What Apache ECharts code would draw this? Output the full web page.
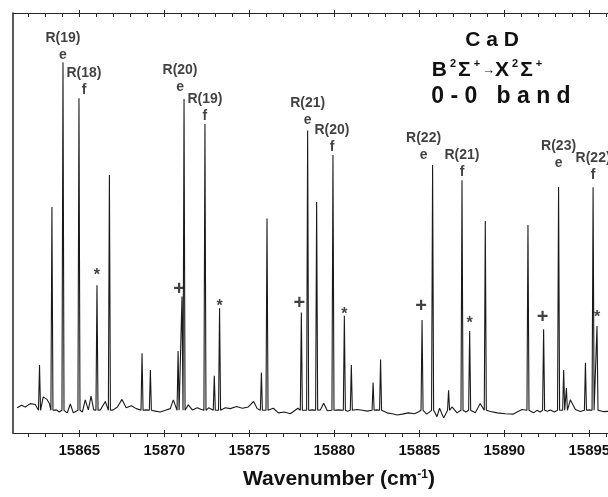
<!DOCTYPE html>
<html>
<head>
<meta charset="utf-8">
<script src="https://cdn.jsdelivr.net/npm/echarts@6/dist/echarts.min.js"></script>
<style>
  html, body { margin: 0; padding: 0; background: #fff; }
  #chart { width: 608px; height: 497px; }
</style>
</head>
<body>
<div id="chart"></div>
<script>
// line positions (cm-1) and heights
var peaks = [
  [15862.66, 16.2], [15863.39, 53.8], [15864.04, 88.3], [15864.98, 79.7],
  [15866.04, 35.2], [15866.77, 61.4], [15868.69, 19.0], [15869.18, 15.0],
  [15870.81, 19.5], [15871.04, 32.5], [15871.16, 79.5], [15872.39, 73.6],
  [15872.94, 13.6], [15873.25, 29.7], [15875.71, 14.4], [15876.04, 51.1],
  [15878.06, 28.7], [15878.43, 72.0], [15878.96, 55.0], [15879.92, 66.2],
  [15880.59, 27.9], [15881.00, 16.2], [15882.28, 12.0], [15882.72, 17.5],
  [15885.16, 26.9], [15885.78, 63.8], [15886.72, 10.2], [15887.51, 60.2],
  [15887.96, 24.3], [15888.88, 50.5], [15891.39, 49.5], [15892.31, 24.7],
  [15893.19, 58.6], [15893.49, 15.0], [15893.65, 10.7], [15894.77, 16.7],
  [15895.22, 58.5], [15895.45, 25.5]
];

// noisy baseline between the lines
var baseline = [
  [15861.35, 6.0], [15861.60, 6.6], [15861.82, 6.2], [15862.12, 7.0], [15862.41, 6.8],
  [15862.88, 8.6], [15863.10, 8.0], [15863.24, 7.0], [15863.65, 5.5], [15863.82, 5.0],
  [15864.29, 4.8], [15864.47, 6.9], [15864.65, 4.8], [15865.18, 5.0], [15865.35, 7.9],
  [15865.53, 5.5], [15865.69, 8.8], [15865.85, 5.5], [15866.24, 5.5], [15866.53, 7.5],
  [15867.00, 5.5], [15867.24, 6.2], [15867.51, 8.0], [15867.76, 6.0], [15868.06, 6.5],
  [15868.35, 5.8], [15868.94, 5.5], [15869.47, 5.2], [15869.76, 5.0], [15870.06, 5.4],
  [15870.35, 5.8], [15870.53, 7.9], [15871.41, 6.7], [15871.65, 5.5], [15871.94, 6.0],
  [15872.18, 5.6], [15872.61, 6.0], [15873.59, 6.0], [15873.88, 5.8], [15874.24, 6.3],
  [15874.59, 5.9], [15874.94, 6.2], [15875.25, 7.5], [15875.47, 5.8], [15876.41, 5.9],
  [15876.71, 4.8], [15877.06, 5.0], [15877.41, 4.6], [15877.86, 5.9], [15878.71, 5.5],
  [15879.18, 5.5], [15879.37, 7.1], [15879.59, 5.3], [15880.24, 5.5], [15880.79, 5.2],
  [15881.34, 5.6], [15881.65, 5.4], [15881.94, 5.2], [15882.50, 5.5], [15883.10, 4.8],
  [15883.41, 4.6], [15883.69, 4.3], [15884.00, 4.5], [15884.35, 4.8], [15884.71, 4.6],
  [15884.94, 5.0], [15885.44, 4.5], [15886.04, 3.9], [15886.19, 5.9], [15886.43, 3.6],
  [15886.92, 6.2], [15887.22, 4.8], [15887.74, 5.0], [15888.29, 4.8], [15888.58, 7.0],
  [15889.18, 5.1], [15889.59, 4.8], [15890.06, 4.6], [15890.53, 4.5], [15891.04, 5.6],
  [15891.72, 4.8], [15891.92, 5.4], [15892.10, 5.0], [15892.53, 5.2], [15892.71, 5.5],
  [15892.94, 5.0], [15893.88, 7.9], [15894.18, 5.6], [15894.47, 5.1], [15895.00, 5.5],
  [15895.81, 5.1], [15896.30, 5.2]
];

var majorTicks = [15865, 15870, 15875, 15880, 15885, 15890, 15895];
var minorTicks = [
  15862, 15863, 15864, 15865, 15866, 15867, 15868, 15869, 15870, 15871,
  15872, 15873, 15874, 15875, 15876, 15877, 15878, 15879, 15880, 15881,
  15882, 15883, 15884, 15885, 15886, 15887, 15888, 15889, 15890, 15891,
  15892, 15893, 15894, 15895, 15896, 15897, 15898, 15899
];

// assignments: branch, parity, line position
var branchLabels = [
  ['R(19)', 'e', 15864.04], ['R(18)', 'f', 15864.98],
  ['R(20)', 'e', 15871.16], ['R(19)', 'f', 15872.39],
  ['R(21)', 'e', 15878.43], ['R(20)', 'f', 15879.92],
  ['R(22)', 'e', 15885.78], ['R(21)', 'f', 15887.51],
  ['R(23)', 'e', 15893.19], ['R(22)', 'f', 15895.22]
];

var markers = [
  ['*', 15866.04], ['+', 15871.04], ['*', 15873.25], ['+', 15878.06], ['*', 15880.59],
  ['+', 15885.16], ['*', 15887.96], ['+', 15892.31], ['*', 15895.45]
];

// styling
var FONT = '"Liberation Sans", Arial, Helvetica, sans-serif';
var halfWidth = 0.06, footLevel = 5.4;
var labelShift = [[0, 6.7], [5, 8], [-4, 12], [0, 8], [0, 10], [-1, 8.3], [-9, 10], [0, 8.3], [0, 23.4], [0, 12]];
var markerShift = [[0, 14], [-3, 7], [0, 5.6], [-2, 9], [0, 5.3], [-1, 13.3], [0, 11], [-1, 12], [0, 12.7]];

function peakHeight(wn) {
  var p = peaks.find(function (q) { return Math.abs(q[0] - wn) < 0.005; });
  return p ? p[1] : 0;
}

// spectrum trace: each line drawn as a narrow spike over the baseline
var spectrum = [];
peaks.forEach(function (p) {
  spectrum.push([p[0] - halfWidth, footLevel], [p[0], p[1]], [p[0] + halfWidth, footLevel]);
});
baseline.forEach(function (b) {
  var clash = peaks.some(function (p) { return Math.abs(p[0] - b[0]) < halfWidth + 0.03; });
  if (!clash) spectrum.push(b);
});
spectrum.sort(function (a, b) { return a[0] - b[0]; });

var axisColor = '#262626';
var xMin = 15861.1, xMax = 15899.45;

function xAxisOf(pos, ticks, inside, len, showLine) {
  return {
    type: 'value', min: xMin, max: xMax, position: pos, gridIndex: 0,
    splitLine: { show: false },
    axisLine: { show: showLine, onZero: false, lineStyle: { color: axisColor, width: 1.2 } },
    axisTick: { show: true, inside: inside, length: len, customValues: ticks, lineStyle: { color: axisColor, width: 1 } },
    axisLabel: { show: false }
  };
}

var bottomAxis = xAxisOf('bottom', minorTicks, false, 4, true);
bottomAxis.axisLabel = {
  show: true, customValues: majorTicks, margin: 10,
  formatter: function (v) { return String(v); },
  fontSize: 15, fontWeight: 'bold', fontFamily: FONT, color: '#111'
};
bottomAxis.name = 'Wavenumber (cm{sup|-1})';
bottomAxis.nameLocation = 'middle';
bottomAxis.nameGap = 36;
bottomAxis.nameTextStyle = {
  fontSize: 21, fontWeight: 'bold', fontFamily: FONT, color: '#111',
  rich: { sup: { fontSize: 12, fontWeight: 'bold', fontFamily: FONT, color: '#111', verticalAlign: 'top', lineHeight: 13 } }
};

var chart = echarts.init(document.getElementById('chart'), null, { renderer: 'canvas' });

chart.setOption({
  animation: false,
  backgroundColor: '#fff',
  grid: { left: 13, top: 13, width: 652, height: 420, outerBoundsMode: 'none', containLabel: false },
  xAxis: [
    bottomAxis,
    xAxisOf('bottom', majorTicks, true, 3, false),
    xAxisOf('top', minorTicks, true, 4, true),
    xAxisOf('top', majorTicks, false, 3, false)
  ],
  yAxis: {
    type: 'value', min: 0, max: 100,
    splitLine: { show: false },
    axisLine: { show: true, lineStyle: { color: '#333', width: 1.6 } },
    axisTick: { show: false },
    axisLabel: { show: false }
  },
  graphic: [
    {
      type: 'text', x: 492, y: 40, silent: true,
      style: { text: 'C a D', fontSize: 21, fontWeight: 'bold', fontFamily: FONT, fill: '#111',
        align: 'center', verticalAlign: 'middle', textAlign: 'center', textVerticalAlign: 'middle' }
    },
    {
      type: 'text', x: 488, y: 70, silent: true,
      style: {
        text: 'B{sp|2}Σ{sp|+}{ar|→}X{sp|2}Σ{sp|+}',
        fontSize: 21, fontWeight: 'bold', fontFamily: FONT, fill: '#111', lineHeight: 24,
        align: 'center', verticalAlign: 'middle', textAlign: 'center', textVerticalAlign: 'middle',
        rich: {
          sp: { fontSize: 11, fontWeight: 'bold', fontFamily: FONT, fill: '#111', verticalAlign: 'top', lineHeight: 12, padding: [0, 2, 0, 3] },
          ar: { fontSize: 13, fontWeight: 'bold', fontFamily: FONT, fill: '#111', verticalAlign: 'middle', lineHeight: 24 }
        }
      }
    },
    {
      type: 'text', x: 501, y: 97, silent: true,
      style: { text: '0 - 0   b a n d', fontSize: 23, fontWeight: 'bold', fontFamily: FONT, fill: '#111',
        align: 'center', verticalAlign: 'middle', textAlign: 'center', textVerticalAlign: 'middle' }
    }
  ],
  series: [
    {
      type: 'line',
      data: spectrum,
      symbol: 'none',
      lineStyle: { color: '#1a1a1a', width: 1.1 },
      silent: true,
      z: 2
    },
    {
      type: 'scatter',
      symbolSize: 0,
      silent: true,
      z: 3,
      data: branchLabels.map(function (b, i) {
        return {
          value: [b[2], peakHeight(b[2])],
          label: {
            formatter: '{a|' + b[0] + '}\n{b|' + b[1] + '}',
            offset: [labelShift[i][0], -(labelShift[i][1] + 8.5)]
          }
        };
      }),
      label: {
        show: true, position: 'inside', align: 'center',
        rich: {
          a: { fontSize: 14, fontWeight: 'bold', fontFamily: FONT, color: '#111', lineHeight: 17, align: 'center' },
          b: { fontSize: 14, fontWeight: 'bold', fontFamily: FONT, color: '#111', lineHeight: 17, align: 'center' }
        }
      }
    },
    {
      type: 'scatter',
      symbolSize: 0,
      silent: true,
      z: 3,
      data: markers.map(function (m, i) {
        var star = m[0] === '*';
        return {
          value: [m[1], peakHeight(m[1])],
          label: {
            formatter: m[0],
            fontSize: star ? 16 : 20,
            offset: [markerShift[i][0], -(markerShift[i][1] - (star ? 4 : 0))]
          }
        };
      }),
      label: {
        show: true, position: 'inside',
        fontWeight: 'bold', fontFamily: FONT, color: '#111'
      }
    }
  ]
});
</script>
</body>
</html>
